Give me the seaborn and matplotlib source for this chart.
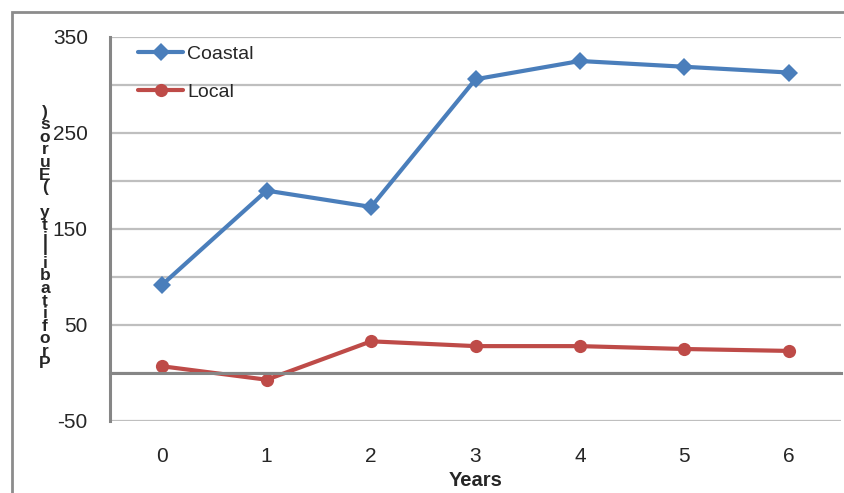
import pandas as pd
import numpy as np
import matplotlib
matplotlib.use('Agg')
import matplotlib.pyplot as plt
import matplotlib.patches as patches
import seaborn as sns

# values
years = [0, 1, 2, 3, 4, 5, 6]
coastal = [92, 190, 173, 306, 325, 319, 313]
local = [7, -7, 33, 28, 28, 25, 23]
series_names = ['Coastal', 'Local']
y_major = [-50, 50, 150, 250, 350]
y_label = 'Profitability (Euros)'

df = pd.DataFrame({
    'Years': years * 2,
    'value': coastal + local,
    'series': [series_names[0]] * len(years) + [series_names[1]] * len(years),
})

sns.set_style('white')
plt.rcParams['font.family'] = ['Liberation Sans', 'DejaVu Sans']
plt.rcParams['axes.unicode_minus'] = False

fig = plt.figure(figsize=(8.44, 4.93), dpi=100)
ax = fig.add_axes([110 / 844, 72 / 493, 731 / 844, 384 / 493])

palette = {'Coastal': '#4A7EBB', 'Local': '#BE4B48'}
sns.lineplot(data=df, x='Years', y='value', hue='series', style='series',
             markers={'Coastal': 'D', 'Local': 'o'}, dashes=False,
             palette=palette, linewidth=3, markersize=9.5, markeredgewidth=0,
             ax=ax)

ax.set_xlim(-0.5, 6.5)
ax.set_ylim(-50, 350)

# grid every 50
ax.set_yticks(y_major)
ax.set_yticks(np.arange(-50, 351, 50), minor=True)
ax.grid(axis='y', which='both', color='#BFBFBF', linewidth=1.6, zorder=0)
ax.set_axisbelow(True)
ax.tick_params(axis='y', which='both', direction='out', length=7, width=2,
               color='#868686', labelsize=15, pad=9)

# x axis sits at zero
for s in ['top', 'right']:
    ax.spines[s].set_visible(False)
ax.spines['left'].set_color('#868686')
ax.spines['left'].set_linewidth(2.2)
ax.spines['bottom'].set_position(('data', 0))
ax.spines['bottom'].set_color('#868686')
ax.spines['bottom'].set_linewidth(2.2)
ax.set_xticks(years)
ax.set_xticks(np.arange(-0.5, 6.6, 1), minor=True)
ax.tick_params(axis='x', which='major', length=0, labelsize=15, pad=53)
ax.tick_params(axis='x', which='minor', direction='out', length=6, width=2,
               color='#868686')

ax.set_xlabel('Years', fontsize=14.5, fontweight='bold', labelpad=4)
ax.set_ylabel('')

# stacked vertical label as in the original
fig.text(45 / 844, 1 - 238 / 493, '\n'.join(reversed(y_label)), ha='center',
         va='center', fontsize=12.5, fontweight='bold', linespacing=0.8)

leg = ax.legend(loc='upper left', bbox_to_anchor=(0.015, 1.025), frameon=False,
                fontsize=14, handlelength=2.3, handletextpad=0.2,
                labelspacing=1.05)

fig.patches.append(patches.Rectangle((12 / 844, -0.1), 1.2, 1.1 - 12 / 493,
                                     transform=fig.transFigure, fill=False,
                                     edgecolor='#8C8C8C', linewidth=2))

fig.savefig('out.png', dpi=100)
